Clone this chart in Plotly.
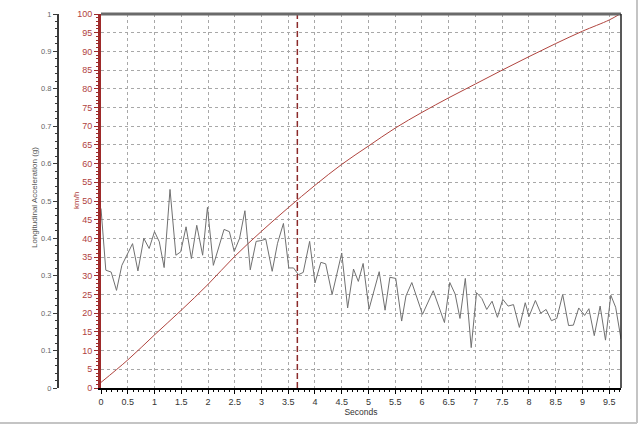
import plotly.graph_objects as go

# Longitudinal acceleration (g) vs time (s)
accel_t = [0.00, 0.09, 0.19, 0.29, 0.39, 0.48, 0.59, 0.69, 0.80, 0.90,
           1.00, 1.09, 1.18, 1.29, 1.40, 1.49, 1.59, 1.69, 1.79, 1.90,
           1.99, 2.10, 2.21, 2.30, 2.40, 2.49, 2.59, 2.69, 2.79, 2.90,
           2.99, 3.08, 3.20, 3.30, 3.41, 3.51, 3.60, 3.69, 3.78, 3.90,
           4.00, 4.11, 4.20, 4.32, 4.50, 4.61, 4.72, 4.81, 4.90, 5.01,
           5.20, 5.31, 5.40, 5.51, 5.62, 5.70, 5.81, 6.01, 6.21, 6.42,
           6.52, 6.62, 6.71, 6.81, 6.92, 7.02, 7.12, 7.21, 7.31, 7.41,
           7.51, 7.61, 7.71, 7.82, 7.93, 8.00, 8.12, 8.22, 8.32, 8.42,
           8.52, 8.63, 8.74, 8.83, 8.93, 9.04, 9.12, 9.22, 9.33, 9.43,
           9.53, 9.62, 9.72]
accel_g = [0.480, 0.315, 0.310, 0.261, 0.328, 0.355, 0.386, 0.313, 0.400, 0.373,
           0.418, 0.391, 0.322, 0.531, 0.355, 0.364, 0.431, 0.346, 0.435, 0.355,
           0.483, 0.328, 0.382, 0.424, 0.418, 0.365, 0.400, 0.474, 0.316, 0.392,
           0.394, 0.398, 0.312, 0.387, 0.440, 0.321, 0.321, 0.303, 0.309, 0.392,
           0.281, 0.336, 0.332, 0.250, 0.361, 0.214, 0.318, 0.285, 0.333, 0.211,
           0.311, 0.208, 0.296, 0.293, 0.179, 0.246, 0.282, 0.197, 0.260, 0.175,
           0.282, 0.251, 0.186, 0.293, 0.108, 0.255, 0.239, 0.210, 0.232, 0.189,
           0.237, 0.219, 0.223, 0.162, 0.228, 0.191, 0.234, 0.200, 0.210, 0.180,
           0.186, 0.250, 0.167, 0.168, 0.214, 0.194, 0.212, 0.140, 0.219, 0.128,
           0.248, 0.216, 0.131]

# Vehicle speed (km/h) vs time (s)
speed_t = [0.0, 0.5, 1.0, 1.5, 2.0, 2.5, 3.0, 3.5, 4.0, 4.5,
           5.0, 5.5, 6.0, 6.5, 7.0, 7.5, 8.0, 8.5, 9.0, 9.5, 9.7]
speed_kmh = [1.5, 7.5, 14.2, 20.8, 27.7, 35.2, 41.9, 48.2, 54.2, 59.8,
             64.7, 69.5, 73.7, 77.6, 81.3, 85.0, 88.6, 92.1, 95.4, 98.4, 100.0]

marker_t = 3.67  # time at which 50 km/h is reached

RED_AXIS = "#9e2a2a"
RED_TEXT = "#b0413e"
GRID = "#a8a8a8"
FONT = "Liberation Sans"

W, H = 640, 426
ML, MR, MT, MB = 58, 19, 14, 38
plot_w = W - ML - MR
plot_h = H - MT - MB
dom0 = (101 - ML) / plot_w

fig = go.Figure()
fig.add_trace(go.Scatter(x=accel_t, y=accel_g, yaxis="y2", mode="lines",
                         line=dict(color="#707070", width=1), hoverinfo="skip"))
fig.add_trace(go.Scatter(x=speed_t, y=speed_kmh, yaxis="y", mode="lines",
                         line=dict(color="#b0443e", width=1, shape="spline"),
                         hoverinfo="skip"))

fig.add_shape(type="line", xref="x", yref="y", x0=marker_t, x1=marker_t, y0=0, y1=100,
              line=dict(color="#8b2a2a", width=1.5, dash="6px,3px"))
# top border and right border of plot area
fig.add_shape(type="line", xref="paper", yref="paper", x0=dom0, x1=1, y0=1, y1=1,
              line=dict(color="#6a6a6a", width=3))
fig.add_shape(type="line", xref="paper", yref="paper", x0=1, x1=1, y0=0, y1=1,
              line=dict(color="#222222", width=1.5))
# outer window frame
fy = (H - MB - 423) / plot_h
fx = (637 - ML) / plot_w
fig.add_shape(type="line", xref="paper", yref="paper", x0=-ML / plot_w, x1=fx, y0=fy, y1=fy,
              line=dict(color="#c4c4c4", width=2))
fig.add_shape(type="line", xref="paper", yref="paper", x0=fx, x1=fx, y0=fy, y1=1 + MT / plot_h,
              line=dict(color="#c4c4c4", width=2))

# axis titles placed as annotations (rotated)
fig.add_annotation(text="km/h", xref="paper", yref="paper",
                   x=(76 - ML) / plot_w, y=(H - MB - 201) / plot_h,
                   textangle=-90, showarrow=False, xanchor="center", yanchor="middle",
                   font=dict(size=8, color=RED_TEXT))
fig.add_annotation(text="Longitudinal Acceleration (g)", xref="paper", yref="paper",
                   x=(34 - ML) / plot_w, y=(H - MB - 198) / plot_h,
                   textangle=-90, showarrow=False, xanchor="center", yanchor="middle",
                   font=dict(size=8, color="#555555"))

fig.update_layout(
    width=W, height=H,
    margin=dict(l=ML, r=MR, t=MT, b=MB, autoexpand=False),
    paper_bgcolor="white", plot_bgcolor="white",
    showlegend=False,
    font=dict(family=FONT, size=9, color="#444444"),
    xaxis=dict(
        domain=[dom0, 1], range=[0, 9.72], tick0=0, dtick=0.5,
        showgrid=True, gridcolor=GRID, griddash="dot", gridwidth=1,
        zeroline=False, showline=True, linecolor="black", linewidth=2,
        ticks="outside", ticklen=4, tickcolor="black",
        minor=dict(dtick=0.1, ticks="outside", ticklen=2, tickcolor="black", showgrid=False),
        tickfont=dict(size=9, color="#333333"),
        title=dict(text="Seconds", font=dict(size=8.5, color="#333333"), standoff=2),
    ),
    yaxis=dict(
        range=[0, 100], tick0=0, dtick=5, anchor="x",
        showgrid=True, gridcolor=GRID, griddash="dot", gridwidth=1,
        zeroline=False, showline=True, linecolor=RED_AXIS, linewidth=3,
        ticks="outside", ticklen=4, tickcolor=RED_AXIS,
        minor=dict(dtick=1, ticks="outside", ticklen=2, tickcolor=RED_AXIS, showgrid=False),
        tickfont=dict(size=9, color=RED_TEXT),
    ),
    yaxis2=dict(
        range=[0, 1], tick0=0, dtick=0.1, overlaying="y", anchor="free",
        position=0, side="left",
        showgrid=False, zeroline=False, showline=True, linecolor="#3a3a3a", linewidth=2,
        ticks="outside", ticklen=4, tickcolor="#3a3a3a",
        minor=dict(dtick=0.02, ticks="outside", ticklen=2, tickcolor="#3a3a3a", showgrid=False),
        tickfont=dict(size=7.5, color="#666666"),
    ),
)

fig.write_html("out.html", config={"displayModeBar": False},
               post_script="document.body.style.margin='0';document.body.style.overflow='hidden';")
